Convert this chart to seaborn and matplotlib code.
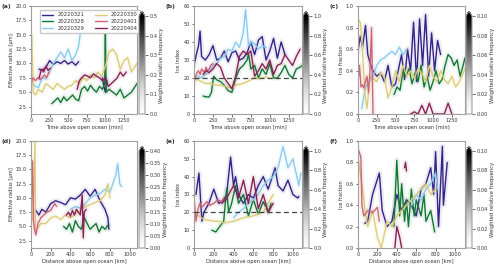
import numpy as np
import matplotlib
matplotlib.use("Agg")
import matplotlib.pyplot as plt
from matplotlib.lines import Line2D
import seaborn as sns

nan = np.nan

dates = ["20220321", "20220328", "20220329", "20220330", "20220401", "20220404"]
colors = ["#332288", "#117733", "#88CCEE", "#DDCC77", "#CC6677", "#882255"]

# (a) effective radius vs time
t_a_21 = [110, 150, 200, 250, 300, 350, 400, 450, 500, 550, 600, 640, nan, 960, 980, 1000, 1020]
y_a_21 = [9.0, 8.8, 9.3, 10.5, 9.8, 10.3, 10.0, 10.5, 9.9, 10.3, 9.7, 10.3, nan, 7.5, 6.0, 5.0, 7.0]
t_a_28 = [280, 320, 360, 400, 440, 480, 520, 560, 600, 640, 680, 720, 760, 800, 840, 880, 920, 960, 990, 1000,
          1010, 1050, 1100, 1150, 1200, 1250, 1300, 1350, 1400, 1425]
y_a_28 = [3.0, 3.5, 4.0, 3.2, 4.2, 3.5, 4.0, 4.5, 3.8, 3.5, 5.5, 6.0, 5.2, 6.2, 5.5, 5.0, 6.0, 5.5, 6.5, 15.5,
          5.0, 5.5, 5.0, 4.5, 5.5, 4.0, 4.5, 5.0, 6.0, 6.5]
t_a_29 = [20, 60, 100, 150, 200, 250, 300, 350, 400, 450, 500, 550, 600, 640, 660]
y_a_29 = [6.5, 6.0, 5.8, 7.5, 7.3, 8.5, 10.0, 11.0, 12.0, 11.0, 12.5, 10.5, 11.5, 13.0, 15.0]
t_a_30 = [0, 10, 30, 60, 100, 150, 200, 250, 300, 350, 400, 450, 500, 550, 600, 650, 700, 750, 800, 850,
          900, 950, 1000, 1050, 1100, 1150, 1200, 1250, 1300, 1350, 1400, 1425]
y_a_30 = [7.0, 15.0, 5.0, 4.5, 5.5, 5.0, 6.5, 6.0, 5.5, 6.5, 6.0, 5.5, 6.0, 6.2, 7.0, 6.5, 7.5, 7.0, 8.0, 7.5,
          8.5, 7.8, 9.5, 12.0, 12.5, 11.5, 9.0, 10.5, 11.0, 8.5, 9.5, 10.0]
t_a_01 = [0, 30, 60, 90, 120, 150, 180, 210, 240]
y_a_01 = [6.5, 7.5, 7.0, 7.5, 7.2, 7.5, 8.0, 7.5, 8.5]
t_a_04 = [110, 140, 170, 200, 230, 260, nan, 620, 650, 680, 720, 760, 800, 840, 880, 920, 960, 1000, 1040,
          1080, 1120, 1160, 1200, 1240, 1280]
y_a_04 = [7.5, 9.0, 8.5, 9.5, 8.8, 9.2, nan, 5.5, 7.0, 7.5, 8.0, 7.8, 7.5, 8.2, 7.8, 7.5, 7.0, 7.5, 6.0,
          6.5, 7.0, 7.5, 8.5, 7.8, 8.5]

# (b) ice index vs time
t_b_21 = [0, 30, 60, 80, 100, 150, 200, 250, 300, 350, 400, 450, 500, 550, 600, 650, 700, 750, 800, 850,
          900, 950, 1000, 1050, 1100, 1150, 1200]
y_b_21 = [27, 33, 38, 46, 32, 30, 33, 38, 30, 31, 35, 29, 34, 35, 30, 31, 34, 40, 33, 41,
          43, 30, 35, 42, 31, 40, 33]
t_b_28 = [120, 160, 200, 230, 260, 300, 350, 400, 450, 500, 550, 600, 650, 700, 720, 750, 800, 850, 900, 950,
          1000, 1050, 1100, 1150, 1200, 1250, 1300, 1350, 1400, 1425]
y_b_28 = [10, 9.5, 9.5, 12, 21, 19, 18, 16, 13, 12, 20, 25, 27, 30, 33, 25, 27, 20, 25, 22,
          28, 20, 20, 23, 27, 22, 20, 25, 26, 27]
t_b_29 = [0, 50, 100, 150, 200, 250, 300, 350, 400, 450, 500, 550, 600, 650, 680, 720, 760, 800, 850, 900, 950]
y_b_29 = [20, 21, 20, 22, 23, 27, 28, 31, 32, 36, 35, 40, 37, 45, 58, 38, 40, 39, 36, 38, 37]
t_b_30 = [0, 50, 100, 150, 200, 250, 300, 350, 400, 450, 500, 550, 600, 650, 700, 750, 800, 850, 900, 950, 1000]
y_b_30 = [21, 19, 18, 17, 17, 16.5, 16, 16, 15.5, 15, 14.5, 16, 16.5, 17, 18, 19, 20, 19.5, 20, 20.5, 20]
t_b_01 = [0, 20, 40, 60, 80, 100, 120, 140, 160, 180, 200, 220, 250]
y_b_01 = [17, 21, 23, 24, 22, 25, 24, 23, 26, 24, 25, 27, 28]
t_b_04 = [120, 160, 200, 250, 300, 350, 400, 450, 500, 550, 600, 650, 700, 750, 800, 850, 900, 950, 1000,
          1050, 1100, 1150, 1200, 1250, 1300, 1350, 1400]
y_b_04 = [22, 24, 23, 25, 28, 26, 20, 17, 14, 21, 32, 35, 33, 35, 21, 24, 28, 25, 30,
          22, 27, 28, 33, 30, 27, 32, 36]

# (c) ice fraction vs time
t_c_21 = [0, 30, 60, 100, 130, 170, 200, 250, 300, 350, 400, 450, 500, 550, 580, 620, 660, 700, 740, 780,
          820, 860, 900, 940, 980, 1020, 1060, 1100]
y_c_21 = [0.58, 0.72, 0.62, 0.82, 0.55, 0.45, 0.40, 0.35, 0.38, 0.30, 0.45, 0.25, 0.28, 0.45, 0.55, 0.32,
          0.60, 0.40, 0.85, 0.30, 0.88, 0.45, 0.92, 0.35, 0.75, 0.40, 0.68, 0.55]
t_c_28 = [480, 520, 560, 600, 640, 680, 720, 760, 800, 840, 880, 920, 960, 1000, 1040, 1080, 1120, 1160,
          1200, 1240, 1280, 1320, 1360, 1400, 1425]
y_c_28 = [0.18, 0.25, 0.22, 0.40, 0.35, 0.42, 0.28, 0.38, 0.30, 0.45, 0.25, 0.35, 0.22, 0.30, 0.40, 0.28,
          0.32, 0.45, 0.55, 0.52, 0.45, 0.50, 0.35, 0.45, 0.52]
t_c_29 = [50, 100, 150, 200, 250, 300, 350, 400, 450, 500, 550, 600, 650]
y_c_29 = [0.05, 0.25, 0.30, 0.35, 0.45, 0.50, 0.52, 0.55, 0.58, 0.55, 0.62, 0.55, 0.60]
t_c_30 = [0, 30, 60, 90, 120, 160, 200, 250, 300, 350, 400, 450, 500, 550, 600, 650, 700, 750, 800, 850,
          900, 950, 1000, 1050, 1100, 1150, 1200, 1250, 1300, 1350, 1400, 1425]
y_c_30 = [0.88, 0.85, 0.60, 0.20, 0.05, 0.35, 0.33, 0.30, 0.38, 0.35, 0.15, 0.25, 0.40, 0.30, 0.45, 0.35,
          0.40, 0.33, 0.42, 0.38, 0.30, 0.45, 0.35, 0.30, 0.40, 0.32, 0.28, 0.35, 0.25, 0.30, 0.38, 0.42]
t_c_01 = [0, 20, 40, 60, 80, 100, 120, 140, 160, 180, 200]
y_c_01 = [0.30, 0.45, 0.25, 0.27, 0.24, 0.30, 0.35, 0.20, 0.40, 0.80, 0.0]
t_c_04 = [700, 750, 800, 850, 900, 950, 1000, 1050, 1100, 1150, 1200, 1250]
y_c_04 = [0.0, 0.02, 0.0, 0.08, 0.0, 0.1, 0.0, 0.0, 0.0, 0.0, 0.1, 0.0]

# (d) effective radius vs distance
x_d_21 = [50, 80, 110, 150, 200, 250, 300, 350, 400, 450, 500, 550, 600, 650, 700, 750, 780, 790]
y_d_21 = [7.8, 7.0, 8.0, 7.5, 9.0, 9.5, 9.2, 8.8, 10.0, 9.8, 10.5, 11.5, 10.3, 11.5, 9.5, 8.0, 6.5, 4.5]
x_d_28 = [330, 360, 390, 420, 450, 480, 510, 540, 570, 600, 630, 660, 690, 720, 750, 780]
y_d_28 = [5.0, 4.5, 5.5, 4.0, 6.0, 5.0, 4.5, 6.5, 5.5, 4.5, 5.0, 5.5, 4.0, 5.0, 4.5, 5.2]
x_d_29 = [400, 450, 500, 550, 600, 650, 700, 750, 800, 830, 860, 880, 900, 920]
y_d_29 = [8.0, 8.5, 8.2, 9.0, 10.0, 10.5, 10.8, 11.5, 11.0, 12.5, 14.0, 16.0, 12.5, 12.0]
x_d_30 = [20, 40, 45, 60, 100, 150, 200, 250, 300, 350, 400, 450, 500, 550, 600, 650, 700, 750, 780, 800]
y_d_30 = [6.0, 20.0, 4.0, 4.5, 5.5, 5.5, 6.5, 6.8, 6.2, 7.0, 6.5, 7.2, 7.8, 8.5, 8.8, 9.2, 9.5, 10.5, 12.5, 10.0]
x_d_01 = [0, 15, 25, 35, 50, 70, 100, 130, 160, 200, 240, 260]
y_d_01 = [7.0, 16.5, 6.0, 4.5, 3.5, 5.5, 6.5, 7.0, 7.5, 7.8, 9.0, 8.5]
x_d_04 = [360, 380, 400, 420, 440, 460, 480, 500, 520, 530, 540, 560]
y_d_04 = [7.0, 7.5, 6.8, 7.8, 7.0, 8.0, 7.5, 7.0, 10.5, 3.0, 7.5, 8.0]

# (e) ice index vs distance
x_e_21 = [20, 50, 80, 100, 150, 200, 250, 300, 330, 370, 400, 420, 450, 500, 550, 600, 650, 700, 750, 780,
          820, 850, 900, 950, 1000, 1050, 1060]
y_e_21 = [30, 42, 15, 20, 25, 33, 25, 27, 30, 51, 35, 40, 30, 25, 30, 28, 35, 40, 33, 38,
          45, 35, 32, 38, 30, 28, 29]
x_e_28 = [180, 220, 260, 300, 330, 350, 380, 420, 450, 500, 550, 600, 650, 700, 750, 780]
y_e_28 = [10, 9, 12, 15, 33, 20, 25, 35, 25, 30, 18, 27, 19, 26, 20, 25]
x_e_29 = [400, 450, 500, 550, 600, 650, 700, 750, 800, 850, 900, 950, 1000, 1040, 1060, 1080]
y_e_29 = [17, 20, 22, 25, 27, 30, 35, 38, 40, 45, 57, 45, 50, 40, 35, 42]
x_e_30 = [0, 50, 100, 150, 200, 250, 300, 350, 400, 450, 500, 550, 600, 650, 700, 750, 800]
y_e_30 = [19, 18, 16, 15.5, 15, 15, 14, 14.5, 15, 16, 17, 17.5, 18, 19, 20, 25, 30]
x_e_01 = [0, 20, 40, 60, 80, 100, 130, 160, 200, 240, 280, 300]
y_e_01 = [29, 15, 22, 25, 23, 24, 26, 24, 25, 27, 26, 28]
x_e_04 = [280, 320, 350, 380, 400, 450, 500, 550, 600, 650, 700, 750, 800]
y_e_04 = [25, 27, 30, 33, 35, 28, 38, 25, 40, 22, 30, 20, 25]

# (f) ice fraction vs distance
x_f_21 = [70, 100, 150, 220, 250, 300, 350, 400, 450, 500, 550, 600, 650, 700, 750, 780, 800, 830, 870, 880, 920]
y_f_21 = [0.23, 0.25, 0.5, 0.7, 0.35, 0.2, 0.25, 0.5, 0.35, 0.45, 0.4, 0.3, 0.55, 0.6, 0.75, 0.5, 0.9, 0.2,
          0.95, 0.4, 0.8]
x_f_28 = [370, 400, 430, 450, 480, 500, 520, 550, 580, 600, 650, 680, 700, 750, 790]
y_f_28 = [0.2, 0.82, 0.3, 0.6, 0.25, 0.45, 0.2, 0.55, 0.3, 0.45, 0.3, 0.5, 0.25, 0.35, 0.15]
x_f_29 = [550, 600, 650, 700, 750, 800, 820]
y_f_29 = [0.4, 0.5, 0.45, 0.55, 0.6, 0.7, 0.55]
x_f_30 = [0, 40, 80, 100, 150, 200, 240, 300, 350, 400, 450, 500, 550, 600, 650, 700, 750, 800]
y_f_30 = [0.85, 0.6, 0.3, 0.2, 0.35, 0.1, 0.0, 0.25, 0.2, 0.3, 0.35, 0.4, 0.45, 0.5, 0.55, 0.6, 0.5, 0.55]
x_f_01 = [0, 30, 40, 60, 100, 150, 200, 220]
y_f_01 = [0.93, 0.85, 0.4, 0.3, 0.35, 0.33, 0.38, 0.25]
x_f_04 = [380, 400, 430, 450, nan, 480, 490, 500]
y_f_04 = [0.0, 0.2, 0.1, 0.0, nan, 0.75, 0.8, 0.72]

sns.set_style("ticks")
plt.rcParams.update({
    "font.family": ["DejaVu Sans"],
    "font.size": 3.8,
    "axes.labelsize": 3.7,
    "xtick.labelsize": 3.6,
    "ytick.labelsize": 3.6,
    "axes.edgecolor": "#a0a0a0",
    "axes.linewidth": 0.8,
    "xtick.color": "#555555",
    "ytick.color": "#555555",
    "xtick.labelcolor": "#333333",
    "ytick.labelcolor": "#333333",
    "text.color": "#333333",
    "axes.labelcolor": "#333333",
    "xtick.major.size": 1.8,
    "ytick.major.size": 1.8,
    "xtick.major.width": 0.6,
    "ytick.major.width": 0.6,
    "axes.labelpad": 1.5,
})

W, H = 500, 270
fig = plt.figure(figsize=(5, 2.7), dpi=100)


def box(x0, y0, x1, y1):
    return [x0 / W, 1 - y1 / H, (x1 - x0) / W, (y1 - y0) / H]


def draw(ax, xs, ys, color):
    xs = np.asarray(xs, float)
    ys = np.asarray(ys, float)
    breaks = np.flatnonzero(np.isnan(xs))
    for seg in np.split(np.arange(len(xs)), breaks):
        seg = seg[~np.isnan(xs[seg])]
        if len(seg) < 2:
            continue
        # faint halo to hint at the frequency shading behind each track
        sns.lineplot(x=xs[seg], y=ys[seg], color=color, lw=4, alpha=0.09, sort=False, estimator=None, ax=ax)
        sns.lineplot(x=xs[seg], y=ys[seg], color=color, lw=1.0, sort=False, estimator=None, ax=ax)


cols = [(31, 137), (194, 302), (358, 465)]
cbcols = [(139, 145), (303, 309), (466, 472)]
rows = [(6, 114), (141, 248)]

panels = [
    ("(a)", [(t_a_21, y_a_21), (t_a_28, y_a_28), (t_a_29, y_a_29), (t_a_30, y_a_30), (t_a_01, y_a_01), (t_a_04, y_a_04)],
     (0, 1425), (1.2, 20), np.arange(2.5, 20.1, 2.5), "%.1f", np.arange(0, 1300, 250),
     "Effective radius [µm]", "Time above open ocean [min]", 0.5, np.arange(0, 0.51, 0.1), "%.1f"),
    ("(b)", [(t_b_21, y_b_21), (t_b_28, y_b_28), (t_b_29, y_b_29), (t_b_30, y_b_30), (t_b_01, y_b_01), (t_b_04, y_b_04)],
     (0, 1425), (0, 60), np.arange(0, 61, 10), "%d", np.arange(0, 1300, 250),
     "Ice index", "Time above open ocean [min]", 1.0, np.arange(0, 1.01, 0.2), "%.1f"),
    ("(c)", [(t_c_21, y_c_21), (t_c_28, y_c_28), (t_c_29, y_c_29), (t_c_30, y_c_30), (t_c_01, y_c_01), (t_c_04, y_c_04)],
     (0, 1425), (0, 1), np.arange(0, 1.01, 0.2), "%.1f", np.arange(0, 1300, 250),
     "Ice fraction", "Time above open ocean [min]", 0.1, np.arange(0, 0.101, 0.02), "%.2f"),
    ("(d)", [(x_d_21, y_d_21), (x_d_28, y_d_28), (x_d_29, y_d_29), (x_d_30, y_d_30), (x_d_01, y_d_01), (x_d_04, y_d_04)],
     (0, 1075), (1.2, 20), np.arange(2.5, 20.1, 2.5), "%.1f", np.arange(0, 1001, 200),
     "Effective radius [µm]", "Distance above open ocean [km]", 0.4, np.arange(0, 0.401, 0.05), "%.2f"),
    ("(e)", [(x_e_21, y_e_21), (x_e_28, y_e_28), (x_e_29, y_e_29), (x_e_30, y_e_30), (x_e_01, y_e_01), (x_e_04, y_e_04)],
     (0, 1092), (0, 60), np.arange(0, 61, 10), "%d", np.arange(0, 1001, 200),
     "Ice index", "Distance above open ocean [km]", 1.0, np.arange(0, 1.01, 0.2), "%.1f"),
    ("(f)", [(x_f_21, y_f_21), (x_f_28, y_f_28), (x_f_29, y_f_29), (x_f_30, y_f_30), (x_f_01, y_f_01), (x_f_04, y_f_04)],
     (0, 1103), (0, 1), np.arange(0, 1.01, 0.2), "%.1f", np.arange(0, 1001, 200),
     "Ice fraction", "Distance above open ocean [km]", 0.1, np.arange(0, 0.101, 0.02), "%.2f"),
]

for i, (tag, series, xlim, ylim, yticks, yfmt, xticks, ylab, xlab, vmax, cticks, cfmt) in enumerate(panels):
    r, c = divmod(i, 3)
    (x0, x1), (y0, y1) = cols[c], rows[r]
    ax = fig.add_axes(box(x0, y0, x1, y1))
    for (xs, ys), col in zip(series, colors):
        draw(ax, xs, ys, col)
    if ylab == "Ice index":
        ax.axhline(20, color="#444444", ls="--", lw=0.9, dashes=(4, 2.5), zorder=5)
    ax.set_xlim(xlim)
    ax.set_ylim(ylim)
    ax.set_yticks(yticks)
    ax.set_yticklabels([yfmt % v for v in yticks])
    ax.set_xticks(xticks)
    ax.set_xlabel(xlab)
    ax.set_ylabel(ylab)
    ax.tick_params(pad=1.2)
    lx = 2 if c == 0 else x0 - 28
    fig.text(lx / W, 1 - (y0 + 0.5) / H, tag, fontsize=4.4, fontweight="bold", va="center", ha="left")

    cx0, cx1 = cbcols[c]
    cax = fig.add_axes(box(cx0, y0 + 5, cx1, y1))
    sm = plt.cm.ScalarMappable(cmap="Greys", norm=plt.Normalize(0, vmax))
    cb = fig.colorbar(sm, cax=cax, extend="max", ticks=cticks)
    cb.ax.set_yticklabels([cfmt % v for v in cticks])
    cb.ax.tick_params(labelsize=3.6, pad=1.2, length=1.8, width=0.6)
    cb.outline.set_edgecolor("#a0a0a0")
    cb.outline.set_linewidth(0.8)
    cb.set_label("Weighted relative frequency", fontsize=3.8, labelpad=1.5)

    if i == 0:
        handles = [Line2D([], [], color=col, lw=1.0) for col in colors]
        ax.legend(handles, dates, ncol=2, loc="upper center", bbox_to_anchor=(0.555, 0.985),
                  fontsize=3.8, handlelength=2.2, labelspacing=0.35, columnspacing=2.0,
                  borderpad=0.4, handletextpad=0.8, frameon=True, framealpha=1,
                  edgecolor="#c8c8c8", fancybox=True)

fig.savefig("out.png", dpi=100)
